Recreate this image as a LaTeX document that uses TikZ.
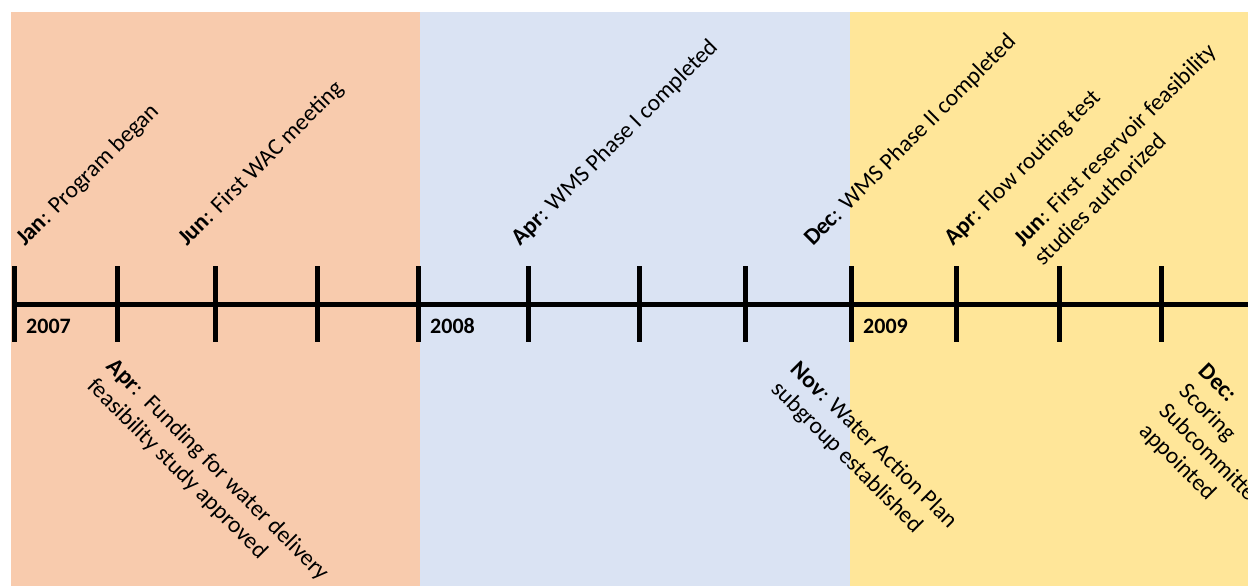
\documentclass[tikz,border=0pt]{standalone}
\usepackage{fontspec}
\setmainfont{Carlito}
\definecolor{orangebg}{HTML}{F8CBAD}
\definecolor{bluebg}{HTML}{DAE3F3}
\definecolor{yellowbg}{HTML}{FFE699}

\begin{document}
\begin{tikzpicture}[x=1pt,y=-1pt,
  upper/.style={anchor=base west, rotate=45, inner sep=0pt, align=left, font=\fontsize{23.5}{28}\selectfont},
  lower/.style={anchor=base west, rotate=-45, inner sep=0pt, align=left, font=\fontsize{23.5}{28}\selectfont},
  yearlbl/.style={anchor=base west, inner sep=0pt, font=\fontsize{22}{26}\selectfont\bfseries},
  tick/.style={line width=5pt}]
%\draw[step=100pt,gray,very thin] (0,0) grid (1248,586);
\useasboundingbox (0,0) rectangle (1248,586);

% year panels
\fill[orangebg] (11,12) rectangle (420,586);
\fill[bluebg] (420,12) rectangle (850,586);
\fill[yellowbg] (850,12) rectangle (1248,586);

% time axis and ticks
\draw[tick] (14,304) -- (1248,304);
\foreach \x/\n in {14/a,117/b,215/c,317/d,418/e,528/f,639/g,745/h,851/i,956/j,1059/k,1161/l}{
  \draw[tick] (\x,266) -- (\x,342);
  \coordinate (t\n) at (\x,304);
}

\node[yearlbl] (y2007) at (26,333) {2007};
\node[yearlbl] (y2008) at (430,333) {2008};
\node[yearlbl] (y2009) at (863,333) {2009};

% events above the axis (base = last line)
\node[upper] (ev1) at (25,247) {\textbf{Jan}: Program began};
\node[upper] (ev2) at (187,247) {\textbf{Jun}: First WAC meeting};
\node[upper] (ev3) at (520,247) {\textbf{Apr}: WMS Phase I completed};
\node[upper] (ev4) at (813,247) {\textbf{Dec}: WMS Phase II completed};
\node[upper] (ev5) at (953,247) {\textbf{Apr}: Flow routing test};
\node[upper] (ev6) at (1043,267) {\textbf{Jun}: First reservoir feasibility\\studies authorized};

% events below the axis
\node[lower] (ev7) at (86,387) {\textbf{Apr}:\ \ Funding for water delivery\\feasibility study approved};
\node[lower] (ev8) at (770,390) {\textbf{Nov}: Water Action Plan\\subgroup established};
\node[lower] (ev9) at (1138,432) {\textbf{Dec:}\\Scoring\\Subcommittee\\appointed};

\end{tikzpicture}
\end{document}
